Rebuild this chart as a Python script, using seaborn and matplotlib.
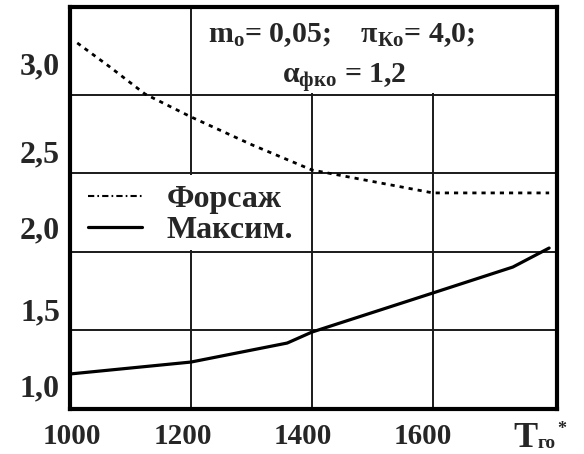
import matplotlib
matplotlib.use("Agg")
import matplotlib.pyplot as plt
import seaborn as sns
import pandas as pd
from matplotlib.transforms import ScaledTranslation, blended_transform_factory
from matplotlib.lines import Line2D
from matplotlib.patches import Rectangle

# ---- data ----
forsazh_T = [1012, 1066, 1124, 1200, 1301, 1400, 1600, 1792]
forsazh_R = [3.331, 3.178, 3.006, 2.860, 2.682, 2.522, 2.376, 2.376]
maxim_T = [1000, 1200, 1359, 1400, 1600, 1732, 1792]
maxim_R = [1.223, 1.299, 1.420, 1.490, 1.739, 1.904, 2.025]

x_ticks = [1000, 1200, 1400, 1600]
x_labels = ["1000", "1200", "1400", "1600"]
y_ticks = [1.0, 1.5, 2.0, 2.5, 3.0]
y_labels = ["1,0", "1,5", "2,0", "2,5", "3,0"]
legend_labels = ["Форсаж", "Максим."]
note_line1 = r"$\mathrm{m_{о}}$= 0,05;    $\mathrm{π_{Ко}}$= 4,0;"
note_line2 = r"$\mathrm{α_{фко}}$ = 1,2"
x_title_parts = ["T", "го", "*"]

sns.set_style("white")
plt.rcParams["font.family"] = ["Liberation Serif", "DejaVu Serif"]
plt.rcParams["font.weight"] = "bold"
plt.rcParams["mathtext.fontset"] = "custom"
plt.rcParams["mathtext.rm"] = "Liberation Serif:bold"
plt.rcParams["mathtext.it"] = "Liberation Serif:bold"
plt.rcParams["mathtext.bf"] = "Liberation Serif:bold"

fig = plt.figure(figsize=(5.84, 4.54), dpi=100)
ax = fig.add_axes([70 / 584, 45 / 454, 487 / 584, 402 / 454])

df_f = pd.DataFrame({"T": forsazh_T, "R": forsazh_R})
df_m = pd.DataFrame({"T": maxim_T, "R": maxim_R})
sns.lineplot(data=df_f, x="T", y="R", ax=ax, color="black", lw=2.0,
             linestyle=(0, (1.5, 1.8)), zorder=3, legend=False)
sns.lineplot(data=df_m, x="T", y="R", ax=ax, color="black", lw=2.3,
             zorder=3, legend=False)

ax.set_xlim(1000, 1805)
ax.set_ylim(1.0, 3.56)
ax.set_xticks(x_ticks)
ax.set_yticks(y_ticks)
ax.set_xticklabels([])
ax.set_yticklabels([])
ax.tick_params(length=0)
ax.set_xlabel("")
ax.set_ylabel("")
ax.set_axisbelow(True)
ax.grid(True, color="#1a1a1a", lw=1.4)
for s in ax.spines.values():
    s.set_visible(True)
    s.set_color("black")
    s.set_linewidth(3)

# white areas behind legend and note
ax.add_patch(Rectangle((1000, 2.012), 390, 0.476, facecolor="white",
                       edgecolor="none", zorder=1))
ax.add_patch(Rectangle((1206, 3.012), 600, 0.6, facecolor="white",
                       edgecolor="none", zorder=1))

# tick labels
bx = blended_transform_factory(ax.transData, ax.transAxes)
x_dx = [2, -8, -9, -10]
for t, lab, dx in zip(x_ticks, x_labels, x_dx):
    ax.text(t, 0, lab, transform=bx + ScaledTranslation(dx / 100, -28 / 100, fig.dpi_scale_trans),
            ha="center", va="center", fontsize=21, fontweight="bold")
by = blended_transform_factory(ax.transAxes, ax.transData)
y_dy = [20, 18, 21, 19, 28]
for v, lab, dy in zip(y_ticks, y_labels, y_dy):
    ax.text(0, v, lab, transform=by + ScaledTranslation(-10 / 100, dy / 100, fig.dpi_scale_trans),
            ha="right", va="center", fontsize=23, fontweight="bold")

# note
ax.text((342 - 70) / 487, (409 - 35) / 402, note_line1, transform=ax.transAxes,
        ha="center", va="center", fontsize=21.5, fontweight="bold", zorder=4)
ax.text((344 - 70) / 487, (409 - 77) / 402, note_line2, transform=ax.transAxes,
        ha="center", va="center", fontsize=21.5, fontweight="bold", zorder=4)

# axis title, built from pieces
fig.text(513 / 584, (454 - 447) / 454, x_title_parts[0], ha="left", va="baseline",
         fontsize=26, fontweight="bold")
fig.text(538 / 584, (454 - 448) / 454, x_title_parts[1], ha="left", va="baseline",
         fontsize=14, fontweight="bold")
fig.text(557 / 584, (454 - 421) / 454, x_title_parts[2], ha="left", va="top",
         fontsize=13, fontweight="bold")

# legend
handles = [Line2D([], [], color="black", lw=1.5, linestyle=(0, (3, 1.5, 0.8, 1.5))),
           Line2D([], [], color="black", lw=2.3)]
ax.legend(handles, legend_labels, loc="upper left", bbox_to_anchor=(0.037, 0.557),
          frameon=False, prop={"family": "Liberation Serif", "weight": "bold", "size": 23},
          handlelength=1.7, handletextpad=0.75, labelspacing=0.05, borderpad=0,
          borderaxespad=0)

fig.savefig("out.png", dpi=100)
